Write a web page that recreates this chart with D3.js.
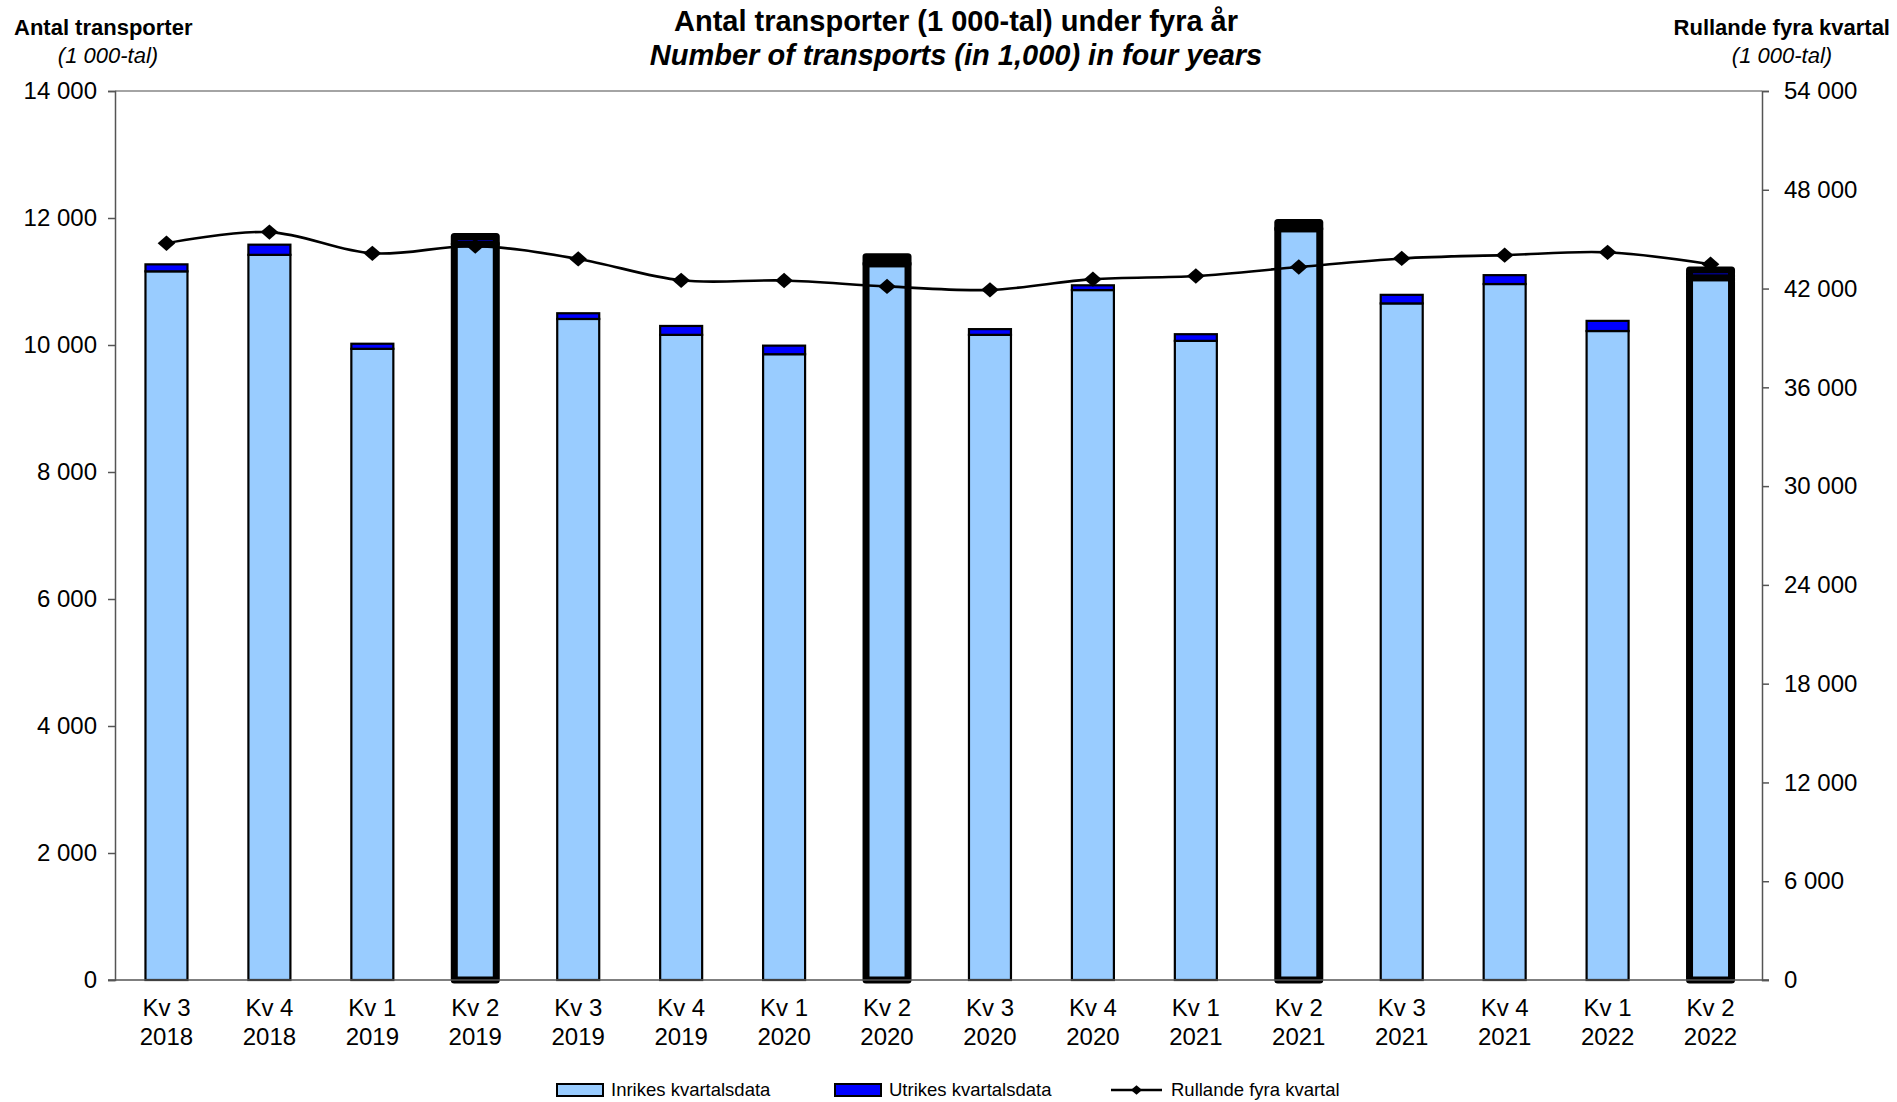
<!DOCTYPE html>
<html>
<head>
<meta charset="utf-8">
<script src="https://cdn.jsdelivr.net/npm/d3@7"></script>
<style>
  html, body { margin: 0; padding: 0; background: #fff; }
  svg { display: block; font-family: "Liberation Sans", Arial, sans-serif; }
</style>
</head>
<body>
<svg id="chart" width="1897" height="1102"></svg>
<script>
// ---- data ----
const quarters = ["Kv 3","Kv 4","Kv 1","Kv 2","Kv 3","Kv 4","Kv 1","Kv 2","Kv 3","Kv 4","Kv 1","Kv 2","Kv 3","Kv 4","Kv 1","Kv 2"];
const years    = ["2018","2018","2019","2019","2019","2019","2020","2020","2020","2020","2021","2021","2021","2021","2022","2022"];
const inrikes  = [11160, 11420, 9940, 11590, 10410, 10160, 9855, 11280, 10160, 10865, 10065, 11830, 10655, 10960, 10220, 11060];
const utrikes  = [110, 160, 80, 120, 90, 140, 135, 110, 90, 75, 105, 100, 135, 140, 160, 120];
const rullande = [44750, 45430, 44140, 44580, 43800, 42500, 42490, 42130, 41920, 42570, 42760, 43310, 43830, 44030, 44200, 43480];
const highlighted = [false,false,false,true,false,false,false,true,false,false,false,true,false,false,false,true];
const leftTicks  = [0, 2000, 4000, 6000, 8000, 10000, 12000, 14000];
const rightTicks = [0, 6000, 12000, 18000, 24000, 30000, 36000, 42000, 48000, 54000];

(function () {
const svg = d3.select("#chart");
const pL = 115, pR = 1762, pT = 91, pB = 980;
const fmt = v => d3.format(",")(v).replace(/,/g, " ");

const idx = d3.range(quarters.length);
const x = d3.scaleBand().domain(idx).range([pL, pR]).paddingInner(0.592).paddingOuter(0.296);
const yL = d3.scaleLinear().domain([0, 14000]).range([pB, pT]);
const yR = d3.scaleLinear().domain([0, 54000]).range([pB, pT]);

// plot frame: top border
svg.append("line").attr("x1", pL).attr("x2", pR).attr("y1", pT).attr("y2", pT)
  .attr("stroke", "#868686").attr("stroke-width", 1.5);

// left axis
const gL = svg.append("g").attr("transform", `translate(${pL},0)`)
  .call(d3.axisLeft(yL).tickValues(leftTicks).tickSize(7).tickPadding(11).tickFormat(fmt));
gL.select(".domain").attr("stroke", "#555").attr("stroke-width", 1.5);
gL.selectAll(".tick line").attr("stroke", "#555").attr("stroke-width", 1.5);
gL.selectAll("text").attr("font-size", 24).attr("fill", "#000").attr("font-family", "Liberation Sans, Arial, sans-serif");

// right axis
const gR = svg.append("g").attr("transform", `translate(${pR},0)`)
  .call(d3.axisRight(yR).tickValues(rightTicks).tickSize(7).tickPadding(15).tickFormat(fmt));
gR.select(".domain").attr("stroke", "#555").attr("stroke-width", 1.5);
gR.selectAll(".tick line").attr("stroke", "#555").attr("stroke-width", 1.5);
gR.selectAll("text").attr("font-size", 24).attr("fill", "#000").attr("font-family", "Liberation Sans, Arial, sans-serif");

// bars
const bars = svg.append("g");
idx.forEach(i => {
  const hl = highlighted[i];
  const sw = hl ? 7 : 2.2;
  const bx = x(i), bw = x.bandwidth();
  bars.append("rect")
    .attr("x", bx).attr("width", bw)
    .attr("y", yL(inrikes[i])).attr("height", yL(0) - yL(inrikes[i]))
    .attr("fill", "#99CCFF").attr("stroke", "#000").attr("stroke-width", sw)
    .attr("stroke-linejoin", hl ? "round" : "miter");
  bars.append("rect")
    .attr("x", bx).attr("width", bw)
    .attr("y", yL(inrikes[i] + utrikes[i])).attr("height", yL(inrikes[i]) - yL(inrikes[i] + utrikes[i]))
    .attr("fill", "#0000FF").attr("stroke", "#000").attr("stroke-width", sw)
    .attr("stroke-linejoin", hl ? "round" : "miter");
});

// baseline (x axis)
svg.append("line").attr("x1", pL - 7).attr("x2", pR + 7).attr("y1", pB).attr("y2", pB)
  .attr("stroke", "#555").attr("stroke-width", 1.5);

// rolling line
const cx = i => x(i) + x.bandwidth() / 2;
const line = d3.line().x((d, i) => cx(i)).y(d => yR(d)).curve(d3.curveCatmullRom.alpha(0.5));
svg.append("path").datum(rullande).attr("d", line)
  .attr("fill", "none").attr("stroke", "#000").attr("stroke-width", 2.6);
const diamond = d3.symbol().type(d3.symbolDiamond2).size(150);
svg.append("g").selectAll("path").data(rullande).join("path")
  .attr("d", diamond)
  .attr("transform", (d, i) => `translate(${cx(i)},${yR(d)}) scale(1.15,1)`)
  .attr("fill", "#000");

// x labels
const xl = svg.append("g");
idx.forEach(i => {
  const t = xl.append("text").attr("x", cx(i)).attr("text-anchor", "middle")
    .attr("font-size", 24).attr("fill", "#000");
  t.append("tspan").attr("x", cx(i)).attr("y", 1016).text(quarters[i]);
  t.append("tspan").attr("x", cx(i)).attr("y", 1045).text(years[i]);
});

// titles
svg.append("text").attr("x", 956).attr("y", 31).attr("text-anchor", "middle")
  .attr("font-size", 29).attr("font-weight", "bold").text("Antal transporter (1 000-tal) under fyra år");
svg.append("text").attr("x", 956).attr("y", 65).attr("text-anchor", "middle")
  .attr("font-size", 29).attr("font-weight", "bold").attr("font-style", "italic")
  .text("Number of transports (in 1,000) in four years");

svg.append("text").attr("x", 14).attr("y", 35)
  .attr("font-size", 22).attr("font-weight", "bold").text("Antal transporter");
svg.append("text").attr("x", 108).attr("y", 63).attr("text-anchor", "middle")
  .attr("font-size", 22).attr("font-style", "italic").text("(1 000-tal)");
svg.append("text").attr("x", 1890).attr("y", 35).attr("text-anchor", "end")
  .attr("font-size", 22).attr("font-weight", "bold").text("Rullande fyra kvartal");
svg.append("text").attr("x", 1782).attr("y", 63).attr("text-anchor", "middle")
  .attr("font-size", 22).attr("font-style", "italic").text("(1 000-tal)");

// legend
const lg = svg.append("g").attr("font-family", "'Liberation Sans Narrow', 'Arial Narrow', 'Liberation Sans', sans-serif");
const ly = 1090;
lg.append("rect").attr("x", 557).attr("y", ly - 6).attr("width", 46).attr("height", 12)
  .attr("fill", "#99CCFF").attr("stroke", "#000").attr("stroke-width", 2);
lg.append("text").attr("x", 611).attr("y", ly + 6).attr("font-size", 18.5).text("Inrikes kvartalsdata");
lg.append("rect").attr("x", 835).attr("y", ly - 6).attr("width", 46).attr("height", 12)
  .attr("fill", "#0000FF").attr("stroke", "#000").attr("stroke-width", 2);
lg.append("text").attr("x", 889).attr("y", ly + 6).attr("font-size", 18.5).text("Utrikes kvartalsdata");
lg.append("line").attr("x1", 1111).attr("x2", 1162).attr("y1", ly).attr("y2", ly)
  .attr("stroke", "#000").attr("stroke-width", 2.6);
lg.append("path").attr("d", d3.symbol().type(d3.symbolDiamond2).size(60))
  .attr("transform", `translate(1136.5,${ly}) scale(1.15,1)`).attr("fill", "#000");
lg.append("text").attr("x", 1171).attr("y", ly + 6).attr("font-size", 18.5).text("Rullande fyra kvartal");
})();
</script>
</body>
</html>
